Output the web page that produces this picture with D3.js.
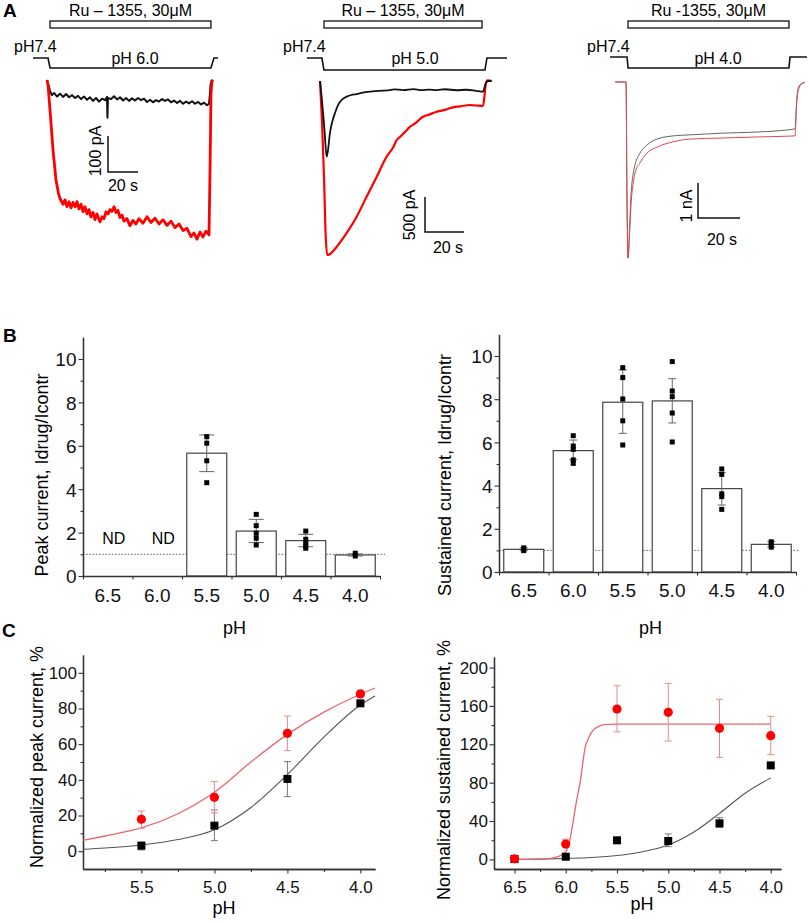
<!DOCTYPE html>
<html>
<head>
<meta charset="utf-8">
<script src="https://cdn.jsdelivr.net/npm/d3@7"></script>
<style>
  body { margin: 0; background: #fff; }
  svg { display: block; }
</style>
</head>
<body>
<div id="chart"></div>
<script>
const FONT = "'Liberation Sans', Arial, Helvetica, sans-serif";

// ---------- A: current traces, [time s, current] ----------
// pH 6.0 (pA)
const ctrl60 = [[0,0],[0.8,-12],[2,-30],[3.3,-42],[4.7,-36],[6.7,-46],[8.7,-38],[10.7,-47],[12.7,-39],[14.7,-48],[16.7,-42],[18.7,-50],[20.7,-44],[22.7,-53],[24.7,-46],[26.7,-55],[28.7,-48],[30.7,-58],[32.7,-50],[34.7,-60],[36.7,-52],[38.7,-56],[40,-47],[40.3,-105],[40.6,-50],[42.7,-53],[44.7,-45],[46.7,-54],[48.7,-48],[50.7,-57],[52.7,-50],[54.7,-58],[56.7,-51],[58.7,-57],[60.7,-50],[62.7,-56],[64.7,-52],[66.7,-61],[68.7,-55],[70.7,-62],[72.7,-56],[74.7,-60],[76.7,-53],[78.7,-58],[80.7,-54],[82.7,-62],[84.7,-57],[86.7,-64],[88.7,-58],[90.7,-66],[92.7,-60],[94.7,-65],[96.7,-59],[98.7,-66],[100.7,-61],[102.7,-68],[104.7,-63],[106.7,-70],[108,-66],[108.5,-45],[109,-15],[109.7,-2],[110.5,0]];
const drug60 = [[0,0],[0.7,-14],[2,-83],[4,-194],[6,-278],[7.6,-314],[8.7,-330],[10.7,-345],[12,-333],[13.3,-352],[14.7,-338],[16,-355],[17.3,-340],[18.7,-352],[20,-338],[21.3,-358],[22.7,-345],[24,-366],[25.3,-352],[26.7,-372],[28,-360],[29.3,-380],[30.7,-368],[32,-388],[33.3,-372],[35.3,-394],[36.7,-380],[38,-385],[39.3,-366],[40.7,-372],[42,-360],[43.3,-365],[44.7,-352],[46,-368],[47.3,-362],[48.7,-382],[50,-375],[51.3,-392],[53.3,-385],[55.3,-405],[57.3,-390],[59.3,-400],[61.3,-385],[64,-398],[66.7,-380],[69.3,-396],[72,-384],[74.7,-400],[77.3,-388],[80,-404],[82.7,-392],[85.3,-410],[88,-400],[90.7,-418],[93.3,-412],[96,-435],[98,-425],[100,-442],[102,-422],[104,-436],[106,-420],[108,-430],[108.5,-300],[109,-150],[109.3,-40],[109.9,-5],[110.7,0]];
// pH 5.0 (pA)
const ctrl50 = [[0,0],[1,-271],[2.3,-700],[3.4,-1081],[4.1,-986],[5.1,-743],[6.3,-580],[7.7,-457],[9,-360],[10.3,-296],[12,-250],[13.7,-224],[16,-200],[18.8,-186],[22,-165],[25.6,-153],[30,-140],[35,-135],[38,-120],[42.6,-129],[48,-115],[52,-130],[56,-122],[59.8,-129],[64,-118],[70,-132],[75,-125],[80,-140],[83.6,-153],[84.4,-86],[85.1,-29],[86,0],[88,0]];
const drug50 = [[0,0],[1,-557],[2.1,-1414],[2.8,-2129],[3.7,-2486],[5.1,-2471],[8.6,-2367],[13.7,-2171],[18.8,-1939],[23.9,-1653],[29.1,-1367],[34.2,-1081],[36,-1010],[37.5,-950],[39.3,-843],[41,-800],[43,-745],[46.2,-653],[49,-600],[52.8,-510],[56,-480],[59.8,-439],[63,-420],[68.2,-376],[72,-362],[76.9,-343],[80,-350],[83.6,-357],[84.4,-200],[85.1,-29],[86,10],[88,4]];
// pH 4.0 (nA)
const ctrl40 = [[-5.2,0],[0,0],[0.48,-3.37],[0.95,-5.03],[1.67,-4.23],[2.38,-3.23],[3.33,-2.66],[4.29,-2.37],[6.67,-2.03],[10,-1.8],[14.8,-1.63],[22.4,-1.54],[30.5,-1.51],[46.2,-1.46],[62.4,-1.43],[80.5,-1.34],[81.3,-0.51],[82,-0.17],[83.7,-0.04],[85.2,-0.01]];
const drug40 = [[-5.2,0],[0,0],[0.48,-3.37],[0.95,-5.03],[1.67,-4.37],[2.38,-3.51],[3.33,-2.94],[4.29,-2.6],[6.67,-2.31],[10,-2.03],[14.8,-1.86],[22.4,-1.71],[30.5,-1.63],[46.2,-1.6],[62.4,-1.57],[80.5,-1.54],[81.1,-0.8],[81.8,-0.3],[83.7,-0.05],[85.2,-0.01]];

// solution protocol [time s, pH] and drug application [on, off]
const protocol60 = [[-9.3,7.4],[0.7,7.4],[2,6.0],[109.3,6.0],[111.3,7.4],[114,7.4]];
const protocol50 = [[-6.7,7.4],[1,7.4],[2,5.0],[84.6,5.0],[85.6,7.4],[95.9,7.4]];
const protocol40 = [[-7.6,7.4],[0.5,7.4],[1,4.0],[77.6,4.0],[78.1,7.4],[86.2,7.4]];
const drugTimes = [[2,109.3],[2.05,83.1],[0.95,77.6]];
const drugLabels = ["Ru \u2013 1355, 30\u03bcM", "Ru \u2013 1355, 30\u03bcM", "Ru -1355, 30\u03bcM"];
const lowPH = [6.0, 5.0, 4.0];
const pHLabels = ["pH 6.0", "pH 5.0", "pH 4.0"];
const scaleI = [100, 500, 1];
const scaleILabels = ["100 pA", "500 pA", "1 nA"];
const scaleT = 20;

// ---------- B: Idrug/Icontr ----------
const pHCats = ["6.5", "6.0", "5.5", "5.0", "4.5", "4.0"];
const peakMean = [null, null, 5.66, 2.07, 1.63, 0.97];
const peakLo = [null, null, 4.81, 1.54, 1.35, 0.92];
const peakHi = [null, null, 6.5, 2.61, 1.92, 1.02];
const peakPts = [[], [], [6.42, 6.12, 5.31, 4.3], [2.84, 2.32, 1.97, 1.74, 1.43], [2.07, 1.69, 1.54, 1.38, 1.28], [1.05, 0.92]];
const sustMean = [1.05, 5.62, 7.86, 7.92, 3.86, 1.28];
const sustLo = [0.98, 5.2, 6.42, 6.9, 3.1, 1.15];
const sustHi = [1.12, 6.11, 9.35, 8.95, 4.6, 1.42];
const sustPts = [[1.12, 0.99], [6.31, 5.83, 5.68, 5.19, 5.03], [9.46, 9.0, 8.01, 7.0, 5.88], [9.74, 8.38, 8.12, 7.36, 6.02], [4.77, 4.52, 3.62, 3.49, 2.9], [1.4, 1.3, 1.15]];

// ---------- C: normalized currents, % ----------
const peakPH = [5.5, 5.0, 4.5, 4.0];
const peakDrug = [17.9, 30.2, 66.1, 88.2];
const peakDrugLo = [12.8, 21.5, 56.4, 87];
const peakDrugHi = [22.5, 39, 75.8, 89.4];
const peakCtrl = [3.1, 14.3, 40.5, 82.9];
const peakCtrlLo = [0.7, 5.9, 30.6, 82];
const peakCtrlHi = [5, 23.1, 50.2, 84];
const peakDrugFit = [[5.9,6],[5.75,8.5],[5.5,13],[5.25,21],[5.0,33],[4.75,50],[4.5,65.5],[4.25,78],[4.0,88],[3.9,91.5]];
const peakCtrlFit = [[5.9,1.1],[5.75,1.8],[5.5,3.5],[5.25,6.5],[5.0,12],[4.75,24.5],[4.5,43],[4.25,64],[4.0,82],[3.9,87]];

const sustPH = [6.5, 6.0, 5.5, 5.0, 4.5, 4.0];
const sustDrug = [0.6, 16, 156.8, 153.3, 136.6, 129];
const sustDrugLo = [0, 12.2, 133, 123.4, 106.4, 109.2];
const sustDrugHi = [1.2, 21, 181, 183.5, 166.9, 149.2];
const sustCtrl = [0.4, 2.8, 19.9, 19.2, 37.6, 98];
const sustCtrlLo = [0, 2, 18.5, 13.3, 33.4, 96];
const sustCtrlHi = [0.8, 3.6, 21.3, 26.5, 43.5, 100];
const sustDrugFit = [[6.5,0],[6.2,0.5],[6.1,2],[6.0,8],[5.96,20],[5.93,38],[5.9,58],[5.86,80],[5.81,117],[5.77,128],[5.73,135],[5.68,138.5],[5.63,140.5],[5.5,141],[5.0,141],[4.5,141],[4.0,141]];
const sustCtrlFit = [[6.5,0],[6.25,0.3],[6.0,1],[5.75,2],[5.5,4],[5.25,8],[5.0,15],[4.75,28.5],[4.5,48],[4.25,69],[4.0,85]];

// ---------------------------------------------------------
const svg = d3.select("#chart").append("svg")
  .attr("width", 809).attr("height", 923)
  .attr("font-family", FONT);

const AX = "#333";

function styleAxis(g, fontSize) {
  g.attr("font-family", FONT).attr("font-size", fontSize);
  g.select(".domain").attr("stroke", AX).attr("stroke-width", 1.3);
  g.selectAll(".tick line").attr("stroke", AX).attr("stroke-width", 1.1);
  g.selectAll(".tick text").attr("fill", "#111");
}

function panelLetter(txt, x, y) {
  svg.append("text").attr("x", x).attr("y", y)
    .attr("font-size", 19).attr("font-weight", "bold").text(txt);
}

// ================= A =================
panelLetter("A", 3, 17);

const aLayout = [
  { x0: 47, tPx: 30, y0: 80, iPx: 36, hi: 58, lo: 68, pre: 14, mid: 135, corner: [108, 172], iLab: [101, 151], tLab: [123, 191],
    ctrlColor: "#111", drugColor: "#f00", ctrlW: 2, drugW: 2.8, curve: d3.curveLinear },
  { x0: 320, tPx: 39, y0: 81, iPx: 35, hi: 58, lo: 70, pre: 283, mid: 415, corner: [425, 232], iLab: [415, 215], tLab: [448, 253],
    ctrlColor: "#111", drugColor: "#f00", ctrlW: 1.8, drugW: 2.2, curve: d3.curveMonotoneX },
  { x0: 626, tPx: 42, y0: 82, iPx: 35, hi: 57, lo: 68, pre: 587, mid: 718, corner: [698, 218], iLab: [692, 206], tLab: [722, 245],
    ctrlColor: "#666", drugColor: "#e2474d", ctrlW: 1, drugW: 1, curve: d3.curveMonotoneX }
];
const aTraces = [[ctrl60, drug60], [ctrl50, drug50], [ctrl40, drug40]];
const aProtocols = [protocol60, protocol50, protocol40];

aLayout.forEach((L, i) => {
  const g = svg.append("g");
  const x = d3.scaleLinear().domain([0, scaleT]).range([L.x0, L.x0 + L.tPx]);
  const y = d3.scaleLinear().domain([0, -scaleI[i]]).range([L.y0, L.y0 + L.iPx]);
  const yp = d3.scaleLinear().domain([7.4, lowPH[i]]).range([L.hi, L.lo]);

  // drug application bar
  const [on, off] = drugTimes[i];
  g.append("rect").attr("x", x(on)).attr("y", 21).attr("width", x(off) - x(on)).attr("height", 7)
    .attr("fill", "#fff").attr("stroke", "#111").attr("stroke-width", 1.3);
  g.append("text").attr("x", (x(on) + x(off)) / 2).attr("y", 16).attr("text-anchor", "middle")
    .attr("font-size", 16).text(drugLabels[i]);

  // pH protocol
  g.append("path").datum(aProtocols[i])
    .attr("fill", "none").attr("stroke", "#111").attr("stroke-width", 1.6)
    .attr("d", d3.line().x(d => x(d[0])).y(d => yp(d[1])));
  g.append("text").attr("x", L.pre).attr("y", 52).attr("font-size", 16).text("pH7.4");
  g.append("text").attr("x", L.mid).attr("y", 64).attr("text-anchor", "middle").attr("font-size", 16).text(pHLabels[i]);

  // traces
  const line = d3.line().x(d => x(d[0])).y(d => y(d[1])).curve(L.curve);
  const [ctrl, drug] = aTraces[i];
  const order = i === 1 ? [[drug, L.drugColor, L.drugW], [ctrl, L.ctrlColor, L.ctrlW]]
                        : [[ctrl, L.ctrlColor, L.ctrlW], [drug, L.drugColor, L.drugW]];
  order.forEach(([data, color, w]) => {
    g.append("path").datum(data).attr("fill", "none").attr("stroke", color)
      .attr("stroke-width", w).attr("stroke-linejoin", "round").attr("d", line);
  });

  // scale bars
  const [cx, cy] = L.corner;
  const vLen = y(-scaleI[i]) - y(0), hLen = x(scaleT) - x(0);
  g.append("path").attr("fill", "none").attr("stroke", "#111").attr("stroke-width", 1.5)
    .attr("d", `M${cx},${cy - vLen}V${cy}H${cx + hLen}`);
  g.append("text").attr("transform", `translate(${L.iLab[0]},${L.iLab[1]}) rotate(-90)`)
    .attr("text-anchor", "middle").attr("font-size", 16).text(scaleILabels[i]);
  g.append("text").attr("x", L.tLab[0]).attr("y", L.tLab[1]).attr("text-anchor", "middle")
    .attr("font-size", 16).text(scaleT + " s");
});

// ================= B =================
panelLetter("B", 3, 342);

function barPanel(opt) {
  const g = svg.append("g");
  const x = d3.scaleBand().domain(pHCats).range([opt.left, opt.right]);
  const y = d3.scaleLinear().domain([0, 11]).range([opt.base, opt.top]);
  const bw = 40;
  const cxOf = c => x(c) + x.bandwidth() / 2;

  // reference line at 1
  g.append("line").attr("x1", opt.left).attr("x2", opt.dotEnd).attr("y1", y(1)).attr("y2", y(1))
    .attr("stroke", "#444").attr("stroke-width", 0.8).attr("stroke-dasharray", "1.6,1.6");

  // bars
  opt.mean.forEach((m, i) => {
    if (m == null) return;
    g.append("rect").attr("x", cxOf(pHCats[i]) - bw / 2).attr("y", y(m))
      .attr("width", bw).attr("height", y(0) - y(m))
      .attr("fill", "#fff").attr("stroke", "#444").attr("stroke-width", 1.2);
  });
  // error bars
  opt.mean.forEach((m, i) => {
    if (m == null) return;
    const cx = cxOf(pHCats[i]);
    const eb = g.append("g").attr("stroke", "#666").attr("stroke-width", 1);
    eb.append("line").attr("x1", cx).attr("x2", cx).attr("y1", y(opt.lo[i])).attr("y2", y(opt.hi[i]));
    [opt.lo[i], opt.hi[i]].forEach(v => eb.append("line")
      .attr("x1", cx - opt.cap / 2).attr("x2", cx + opt.cap / 2).attr("y1", y(v)).attr("y2", y(v)));
  });
  // individual cells
  opt.pts.forEach((arr, i) => {
    const cx = cxOf(pHCats[i]);
    g.selectAll(null).data(arr).join("rect")
      .attr("x", cx - 2.5).attr("y", d => y(d) - 2.5).attr("width", 5).attr("height", 5).attr("fill", "#000");
  });
  // ND labels
  opt.mean.forEach((m, i) => {
    if (m != null) return;
    g.append("text").attr("x", cxOf(pHCats[i]) + 6).attr("y", opt.ndY).attr("text-anchor", "middle")
      .attr("font-size", 16).text("ND");
  });

  // y axis
  const yMinor = g.append("g").attr("transform", `translate(${opt.left},0)`)
    .call(d3.axisLeft(y).tickValues([1, 3, 5, 7, 9]).tickSize(2.5).tickSizeOuter(0).tickFormat(""));
  styleAxis(yMinor, 18);
  const yMajor = g.append("g").attr("transform", `translate(${opt.left},0)`)
    .call(d3.axisLeft(y).tickValues([0, 2, 4, 6, 8, 10]).tickSize(4.5).tickPadding(2).tickSizeOuter(0));
  styleAxis(yMajor, 19);
  yMajor.selectAll(".tick text").attr("dy", "0.36em");

  // x axis: ticks at category boundaries, labels at centres
  const xb = d3.scaleLinear().domain([0, pHCats.length]).range([opt.left, opt.right]);
  const xAxis = g.append("g").attr("transform", `translate(0,${opt.base})`)
    .call(d3.axisBottom(xb).tickValues(d3.range(pHCats.length + 1)).tickSize(3.5).tickSizeOuter(0).tickFormat(""));
  styleAxis(xAxis, 19);
  g.selectAll(null).data(pHCats).join("text")
    .attr("x", d => cxOf(d)).attr("y", opt.tickY).attr("text-anchor", "middle")
    .attr("font-size", 19).attr("fill", "#111").text(d => d);

  g.append("text").attr("x", (opt.left + opt.right) / 2 + 3).attr("y", 634).attr("text-anchor", "middle")
    .attr("font-size", 18).text("pH");
  g.append("text").attr("transform", `translate(${opt.labX},475) rotate(-90)`)
    .attr("text-anchor", "middle").attr("font-size", 18).text(opt.title);
}

barPanel({ left: 83, right: 380, base: 576, top: 337.3, dotEnd: 385, cap: 15, tickY: 602, ndY: 544, labX: 48,
  mean: peakMean, lo: peakLo, hi: peakHi, pts: peakPts, title: "Peak current, Idrug/Icontr" });
barPanel({ left: 499, right: 796, base: 572, top: 334.4, dotEnd: 800, cap: 8, tickY: 597, ndY: 540, labX: 451,
  mean: sustMean, lo: sustLo, hi: sustHi, pts: sustPts, title: "Sustained current, Idrug/Icontr" });

// ================= C =================
panelLetter("C", 2, 637);

function curvePanel(opt) {
  const g = svg.append("g");
  const x = d3.scaleLinear().domain(opt.xDom).range([opt.left, opt.right]);
  const y = d3.scaleLinear().domain(opt.yDom).range([869, opt.top]);

  // axes
  const yMinor = g.append("g").attr("transform", `translate(${opt.left},0)`)
    .call(d3.axisLeft(y).tickValues(opt.yMinor).tickSize(2.5).tickSizeOuter(0).tickFormat(""));
  styleAxis(yMinor, 17);
  const yMajor = g.append("g").attr("transform", `translate(${opt.left},0)`)
    .call(d3.axisLeft(y).tickValues(opt.yMajor).tickSize(4.5).tickPadding(1.5).tickSizeOuter(0));
  styleAxis(yMajor, 17);
  const xMinor = g.append("g").attr("transform", "translate(0,869)")
    .call(d3.axisBottom(x).tickValues(opt.xMinor).tickSize(3).tickSizeOuter(0).tickFormat(""));
  styleAxis(xMinor, 17);
  const xMajor = g.append("g").attr("transform", "translate(0,869)")
    .call(d3.axisBottom(x).tickValues(opt.xMajor).tickSize(4.5).tickPadding(7).tickSizeOuter(0).tickFormat(d3.format(".1f")));
  styleAxis(xMajor, 17);

  // fits
  const line = d3.line().x(d => x(d[0])).y(d => y(d[1])).curve(d3.curveMonotoneX);
  g.append("path").datum(opt.ctrlFit).attr("fill", "none").attr("stroke", "#555").attr("stroke-width", 1.1).attr("d", line);
  g.append("path").datum(opt.drugFit).attr("fill", "none").attr("stroke", "#e8666a").attr("stroke-width", 1.3).attr("d", line);

  // error bars
  function errs(lo, hi, color) {
    const eb = g.append("g").attr("stroke", color).attr("stroke-width", 1);
    opt.ph.forEach((p, i) => {
      const cx = x(p);
      eb.append("line").attr("x1", cx).attr("x2", cx).attr("y1", y(lo[i])).attr("y2", y(hi[i]));
      [lo[i], hi[i]].forEach(v => eb.append("line")
        .attr("x1", cx - 3.5).attr("x2", cx + 3.5).attr("y1", y(v)).attr("y2", y(v)));
    });
  }
  errs(opt.ctrlLo, opt.ctrlHi, "#777");
  errs(opt.drugLo, opt.drugHi, "#e98a8c");

  g.selectAll(null).data(opt.ph).join("rect")
    .attr("x", d => x(d) - 4).attr("y", (d, i) => y(opt.ctrl[i]) - 4)
    .attr("width", 8).attr("height", 8).attr("fill", "#000");
  g.selectAll(null).data(opt.ph).join("circle")
    .attr("cx", d => x(d)).attr("cy", (d, i) => y(opt.drug[i])).attr("r", 4.6).attr("fill", "#f00");

  g.append("text").attr("x", opt.phX).attr("y", opt.phY).attr("text-anchor", "middle")
    .attr("font-size", 18).text("pH");
  g.append("text").attr("transform", `translate(${opt.labX},${opt.labY}) rotate(-90)`)
    .attr("text-anchor", "middle").attr("font-size", 18).text(opt.title);
}

curvePanel({ left: 83, right: 375, top: 655, xDom: [5.9, 3.9], yDom: [-10, 110],
  xMajor: [5.5, 5.0, 4.5, 4.0], xMinor: [5.75, 5.25, 4.75, 4.25],
  yMajor: [0, 20, 40, 60, 80, 100], yMinor: [10, 30, 50, 70, 90],
  ph: peakPH, drug: peakDrug, drugLo: peakDrugLo, drugHi: peakDrugHi,
  ctrl: peakCtrl, ctrlLo: peakCtrlLo, ctrlHi: peakCtrlHi,
  drugFit: peakDrugFit, ctrlFit: peakCtrlFit,
  phX: 224, phY: 914, labX: 43, labY: 757, title: "Normalized peak current, %" });

curvePanel({ left: 494, right: 781, top: 657, xDom: [6.7, 3.9], yDom: [-10, 211],
  xMajor: [6.5, 6.0, 5.5, 5.0, 4.5, 4.0], xMinor: [6.25, 5.75, 5.25, 4.75, 4.25],
  yMajor: [0, 40, 80, 120, 160, 200], yMinor: [20, 60, 100, 140, 180],
  ph: sustPH, drug: sustDrug, drugLo: sustDrugLo, drugHi: sustDrugHi,
  ctrl: sustCtrl, ctrlLo: sustCtrlLo, ctrlHi: sustCtrlHi,
  drugFit: sustDrugFit, ctrlFit: sustCtrlFit,
  phX: 642, phY: 910, labX: 450, labY: 770, title: "Normalized sustained current, %" });
</script>
</body>
</html>
